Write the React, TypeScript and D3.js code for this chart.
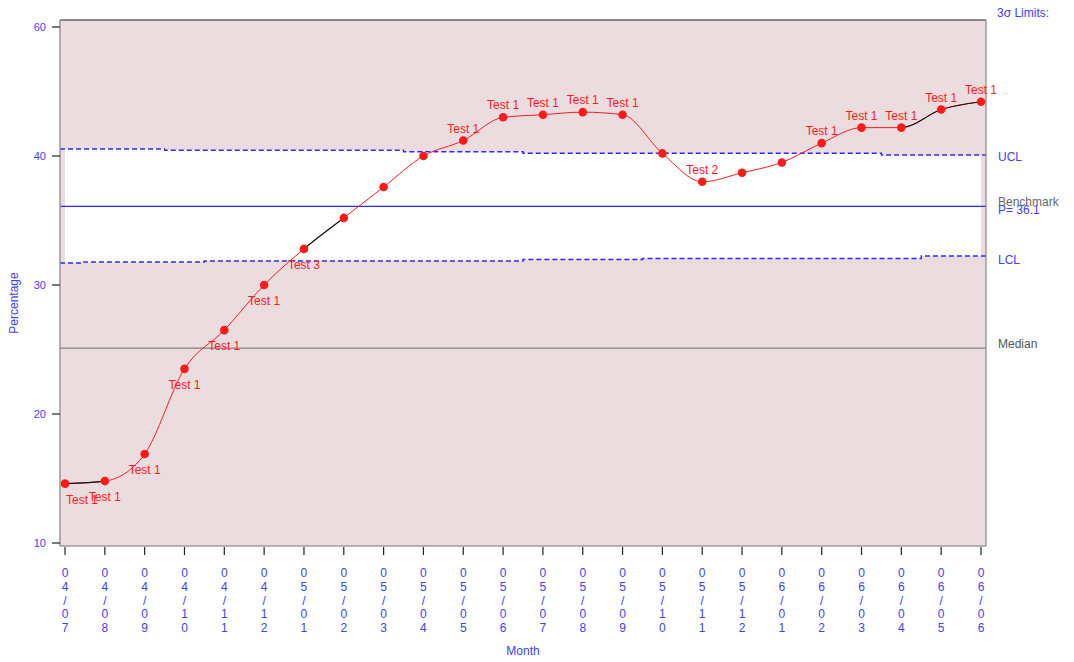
import React, { useEffect, useRef } from "react";
import * as d3 from "d3";

/* DATA */
const months = [
  "04/07", "04/08", "04/09", "04/10", "04/11", "04/12",
  "05/01", "05/02", "05/03", "05/04", "05/05", "05/06",
  "05/07", "05/08", "05/09", "05/10", "05/11", "05/12",
  "06/01", "06/02", "06/03", "06/04", "06/05", "06/06",
];
const percentage = [
  14.6, 14.8, 16.9, 23.5, 26.5, 30.0,
  32.8, 35.2, 37.6, 40.0, 41.2, 43.0,
  43.2, 43.4, 43.2, 40.2, 38.0, 38.7,
  39.5, 41.0, 42.2, 42.2, 43.6, 44.2,
];
const ucl = [
  40.54, 40.54, 40.54, 40.44, 40.44, 40.44,
  40.44, 40.44, 40.44, 40.33, 40.33, 40.33,
  40.21, 40.21, 40.21, 40.21, 40.21, 40.21,
  40.21, 40.21, 40.21, 40.08, 40.08, 40.08,
];
const lcl = [
  31.7, 31.78, 31.78, 31.78, 31.86, 31.86,
  31.86, 31.86, 31.86, 31.86, 31.86, 31.86,
  31.98, 31.98, 31.98, 32.05, 32.05, 32.05,
  32.05, 32.05, 32.05, 32.05, 32.25, 32.25,
];
// "" = no label, "+" prefix = above point, "-" prefix = below
const testLabels = [
  "-Test 1", "-Test 1", "-Test 1", "-Test 1", "-Test 1", "-Test 1",
  "-Test 3", "", "", "", "+Test 1", "+Test 1",
  "+Test 1", "+Test 1", "+Test 1", "", "+Test 2", "",
  "", "+Test 1", "+Test 1", "+Test 1", "+Test 1", "+Test 1",
];
// segments starting at these indices are drawn black
const blackSegments = [0, 6, 21, 22];
const benchmark = 36.1;
const median = 25.1;
const yTickValues = [10, 20, 30, 40, 50];
const yTickLabels = ["10", "20", "30", "40", "60"];

const App = () => {
  const ref = useRef<SVGSVGElement>(null);

  useEffect(() => {
    const width = 1074;
    const height = 662;
    const left = 60;
    const right = 986;
    const top = 20;
    const bottom = 546;
    const font = "'Liberation Sans', Arial, sans-serif";
    const blue = "#2a2aff";
    const textBlue = "#4040ff";
    const red = "#ff1a1a";
    const pink = "#ebdcdf";

    const svg = d3.select(ref.current!);
    svg.selectAll("*").remove();
    svg.attr("width", width).attr("height", height);

    const x = d3.scalePoint<string>().domain(months).range([65, 981]);
    const y = d3.scaleLinear().domain([10, 40]).range([543, 156]);

    /* plot background */
    svg.append("rect")
      .attr("x", left).attr("y", top)
      .attr("width", right - left).attr("height", bottom - top)
      .attr("fill", pink);

    /* white band between control limits */
    const band = d3.area<number>()
      .x((_, i) => x(months[i])!)
      .y0((_, i) => y(lcl[i]))
      .y1((_, i) => y(ucl[i]))
      .curve(d3.curveStep);
    svg.append("path").datum(ucl).attr("d", band).attr("fill", "#fff");

    /* limit lines */
    const limitLine = (vals: number[]) =>
      d3.line<number>()
        .x((_, i) => (i === 0 ? left : i === vals.length - 1 ? right : x(months[i])!))
        .y((d) => y(d))
        .curve(d3.curveStep)(vals);
    [ucl, lcl].forEach((vals) => {
      svg.append("path")
        .attr("d", limitLine(vals))
        .attr("fill", "none")
        .attr("stroke", blue)
        .attr("stroke-width", 1.4)
        .attr("stroke-dasharray", "5,3");
    });

    /* benchmark & median */
    svg.append("line")
      .attr("x1", left).attr("x2", right)
      .attr("y1", y(benchmark)).attr("y2", y(benchmark))
      .attr("stroke", blue).attr("stroke-width", 1.3);
    svg.append("line")
      .attr("x1", left).attr("x2", right)
      .attr("y1", y(median)).attr("y2", y(median))
      .attr("stroke", "#808080").attr("stroke-width", 1.2);

    /* frame */
    svg.append("line").attr("x1", left).attr("x2", right).attr("y1", top).attr("y2", top)
      .attr("stroke", "#222").attr("stroke-width", 1.2);
    svg.append("line").attr("x1", right).attr("x2", right).attr("y1", top).attr("y2", bottom)
      .attr("stroke", "#888").attr("stroke-width", 1.2);
    svg.append("line").attr("x1", left).attr("x2", left).attr("y1", top).attr("y2", bottom)
      .attr("stroke", "#999").attr("stroke-width", 1.5);
    svg.append("line").attr("x1", left).attr("x2", right).attr("y1", bottom).attr("y2", bottom)
      .attr("stroke", "#777").attr("stroke-width", 1.2);

    /* data line */
    const line = d3.line<number>()
      .x((_, i) => x(months[i])!)
      .y((d) => y(d))
      .curve(d3.curveMonotoneX);
    const defs = svg.append("defs");
    svg.append("path").datum(percentage).attr("d", line)
      .attr("fill", "none").attr("stroke", red).attr("stroke-width", 1);
    blackSegments.forEach((s) => {
      const id = `seg-${s}`;
      defs.append("clipPath").attr("id", id)
        .append("rect")
        .attr("x", x(months[s])!).attr("y", top)
        .attr("width", x(months[s + 1])! - x(months[s])!)
        .attr("height", bottom - top);
      svg.append("path").datum(percentage).attr("d", line)
        .attr("clip-path", `url(#${id})`)
        .attr("fill", "none").attr("stroke", "#111").attr("stroke-width", 1.1);
    });

    /* points */
    svg.append("g").selectAll("circle").data(percentage).join("circle")
      .attr("cx", (_, i) => x(months[i])!)
      .attr("cy", (d) => y(d))
      .attr("r", 4.3)
      .attr("fill", red);

    /* test labels */
    svg.append("g").selectAll("text")
      .data(testLabels.map((t, i) => ({ t, i })).filter((d) => d.t !== ""))
      .join("text")
      .attr("x", (d) => (d.i === 0 ? x(months[0])! + 1 : x(months[d.i])!))
      .attr("y", (d) => y(percentage[d.i]) + (d.t[0] === "+" ? -8 : 20))
      .attr("text-anchor", (d) => (d.i === 0 ? "start" : "middle"))
      .attr("font-family", font)
      .attr("font-size", 12)
      .attr("fill", red)
      .text((d) => d.t.slice(1));

    /* y axis */
    const yAxis = svg.append("g");
    yTickValues.forEach((v, i) => {
      yAxis.append("line")
        .attr("x1", left - 8).attr("x2", left)
        .attr("y1", y(v)).attr("y2", y(v))
        .attr("stroke", "#222").attr("stroke-width", 1.2);
      yAxis.append("text")
        .attr("x", left - 14).attr("y", y(v) + 4)
        .attr("text-anchor", "end")
        .attr("font-family", font).attr("font-size", 11)
        .attr("fill", textBlue)
        .text(yTickLabels[i]);
    });
    svg.append("text")
      .attr("transform", `translate(18,${(top + bottom) / 2 + 20}) rotate(-90)`)
      .attr("text-anchor", "middle")
      .attr("font-family", font).attr("font-size", 12)
      .attr("fill", textBlue)
      .text("Percentage");

    /* x axis: stacked characters */
    const xAxis = svg.append("g");
    months.forEach((m) => {
      const cx = x(m)!;
      xAxis.append("line")
        .attr("x1", cx).attr("x2", cx)
        .attr("y1", bottom + 1).attr("y2", bottom + 9)
        .attr("stroke", "#222").attr("stroke-width", 1.2);
      m.split("").forEach((c, k) => {
        xAxis.append("text")
          .attr("x", cx).attr("y", 577 + k * 13.8)
          .attr("text-anchor", "middle")
          .attr("font-family", font).attr("font-size", 12)
          .attr("fill", textBlue)
          .text(c);
      });
    });
    svg.append("text")
      .attr("x", (left + right) / 2).attr("y", 655)
      .attr("text-anchor", "middle")
      .attr("font-family", font).attr("font-size", 12)
      .attr("fill", textBlue)
      .text("Month");

    /* right side legend */
    const rightText = (t: string, yy: number, color: string) =>
      svg.append("text")
        .attr("x", 998).attr("y", yy)
        .attr("font-family", font).attr("font-size", 12)
        .attr("fill", color)
        .text(t);
    rightText("3\u03c3  Limits:", 17, textBlue).attr("x", 997);
    rightText("UCL", y(ucl[ucl.length - 1]) + 6, textBlue);
    rightText("Benchmark", y(benchmark), "#666");
    rightText(`P= ${benchmark.toFixed(1)}`, y(benchmark) + 8, textBlue);
    rightText("LCL", y(lcl[lcl.length - 1]) + 8, textBlue);
    rightText("Median", y(median), "#555");
  }, []);

  return (
    <svg
      ref={ref}
      style={{ position: "absolute", left: 0, top: 0, background: "#fff" }}
    />
  );
};

export default App;
